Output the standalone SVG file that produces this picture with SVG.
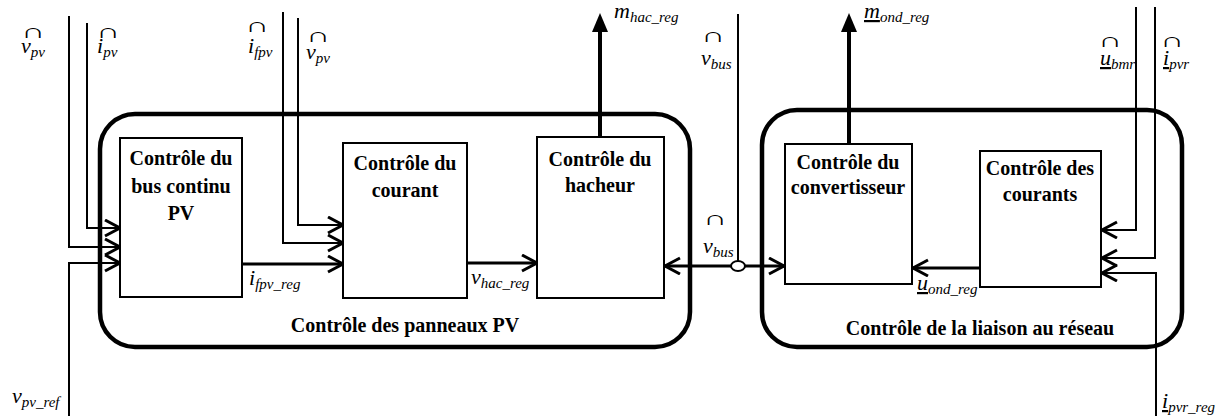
<svg xmlns="http://www.w3.org/2000/svg" width="1223" height="416" viewBox="0 0 1223 416">
<style>
.grp{fill:none;stroke:#000;stroke-width:4.5}
.blk rect{fill:#fff;stroke:#000;stroke-width:2}
.bt{font-family:"Liberation Serif","Times New Roman",serif;font-weight:bold;font-size:20px;text-anchor:middle}
.lbl{font-family:"Liberation Serif","Times New Roman",serif;font-style:italic;font-size:22px}
.sub{font-size:15px}
.hat{font-family:"DejaVu Sans",sans-serif;font-weight:200;font-size:18px}
.w{fill:none;stroke:#000;stroke-width:2}
.t{stroke-width:3}
.u{text-decoration:underline}
</style>
<defs>
<marker id="ar" markerUnits="userSpaceOnUse" markerWidth="22" markerHeight="22" refX="16" refY="9" orient="auto-start-reverse">
<path d="M1,1 L16,9 L1,17" fill="none" stroke="#000" stroke-width="3"/>
</marker>
</defs>
<g id="group-pv">
<rect class="grp" x="100" y="114" width="590" height="233" rx="35"/>
<text class="bt" x="405" y="332">Contrôle des panneaux PV</text>
</g>
<g id="group-reseau">
<rect class="grp" x="762" y="110" width="420" height="237" rx="35"/>
<text class="bt" x="980" y="335">Contrôle de la liaison au réseau</text>
</g>
<g id="connectors">
<path class="w" d="M69,16 V247 H120" marker-end="url(#ar)"/>
<path class="w" d="M87,23 V228 H120" marker-end="url(#ar)"/>
<path class="w" d="M69,416 V263 H120" marker-end="url(#ar)"/>
<path class="w" d="M283,12 V243 H343" marker-end="url(#ar)"/>
<path class="w" d="M298,18 V225 H343" marker-end="url(#ar)"/>
<path class="w t" d="M242,264 H343" marker-end="url(#ar)"/>
<path class="w t" d="M467,263 H537" marker-end="url(#ar)"/>
<path class="w" style="stroke-width:4" d="M600,137 V30"/>
<polygon points="592,32 608,32 600,13"/>
<path class="w" style="stroke-width:4" d="M849,144 V30"/>
<polygon points="841,32 857,32 849,13"/>
<path class="w" d="M738,14 V261"/>
<path class="w t" d="M665,266 H784" marker-start="url(#ar)" marker-end="url(#ar)"/>
<ellipse cx="738" cy="266" rx="7" ry="5" fill="#fff" stroke="#000" stroke-width="2"/>
<path class="w t" d="M980,268 H913" marker-end="url(#ar)"/>
<path class="w" d="M1136,7 V230 H1102" marker-end="url(#ar)"/>
<path class="w" d="M1155,7 V258 H1102" marker-end="url(#ar)"/>
<path class="w" d="M1156,416 V273 H1102" marker-end="url(#ar)"/>
</g>
<g id="blk-bus" class="blk">
<rect x="120" y="138" width="122" height="159"/>
<text class="bt" x="181" y="165">Contrôle du</text>
<text class="bt" x="181" y="193">bus continu</text>
<text class="bt" x="181" y="220">PV</text>
</g>
<g id="blk-courant" class="blk">
<rect x="343" y="143" width="124" height="155"/>
<text class="bt" x="405" y="170">Contrôle du</text>
<text class="bt" x="405" y="197">courant</text>
</g>
<g id="blk-hacheur" class="blk">
<rect x="537" y="137" width="127" height="161"/>
<text class="bt" x="600" y="166">Contrôle du</text>
<text class="bt" x="600" y="192">hacheur</text>
</g>
<g id="blk-conv" class="blk">
<rect x="785" y="144" width="127" height="140"/>
<text class="bt" x="848" y="169">Contrôle du</text>
<text class="bt" x="848" y="194">convertisseur</text>
</g>
<g id="blk-courants" class="blk">
<rect x="980" y="151" width="121" height="136"/>
<text class="bt" x="1040" y="175">Contrôle des</text>
<text class="bt" x="1040" y="201">courants</text>
</g>
<g id="labels">
<text class="hat" transform="translate(21,38) scale(1.8,1.1)">∩</text>
<text class="lbl" x="21" y="53">v<tspan class="sub" dy="4">pv</tspan></text>
<text class="hat" transform="translate(96,38) scale(1.8,1.1)">∩</text>
<text class="lbl" x="97" y="53">i<tspan class="sub" dy="4">pv</tspan></text>
<text class="hat" transform="translate(245,32) scale(1.8,1.1)">∩</text>
<text class="lbl" x="248" y="53">i<tspan class="sub" dy="4">fpv</tspan></text>
<text class="hat" transform="translate(306,42) scale(1.8,1.1)">∩</text>
<text class="lbl" x="306" y="59">v<tspan class="sub" dy="4">pv</tspan></text>
<text class="lbl" x="249" y="285">i<tspan class="sub" dy="4">fpv_reg</tspan></text>
<text class="lbl" x="471" y="284">v<tspan class="sub" dy="4">hac_reg</tspan></text>
<text class="lbl" x="614" y="18">m<tspan class="sub" dy="4">hac_reg</tspan></text>
<text class="hat" transform="translate(701,42) scale(1.8,1.1)">∩</text>
<text class="lbl" x="701" y="65">v<tspan class="sub" dy="4">bus</tspan></text>
<text class="hat" transform="translate(703,225) scale(1.8,1.1)">∩</text>
<text class="lbl" x="703" y="253">v<tspan class="sub" dy="4">bus</tspan></text>
<text class="lbl" x="864" y="18"><tspan class="u">m</tspan><tspan class="sub" dy="4">ond_reg</tspan></text>
<text class="hat" transform="translate(1098,47) scale(1.8,1.1)">∩</text>
<text class="lbl" x="1100" y="65"><tspan class="u">u</tspan><tspan class="sub" dy="4">bmr</tspan></text>
<text class="hat" transform="translate(1160,47) scale(1.8,1.1)">∩</text>
<text class="lbl" x="1163" y="65"><tspan class="u">i</tspan><tspan class="sub" dy="4">pvr</tspan></text>
<text class="lbl" x="917" y="290"><tspan class="u">u</tspan><tspan class="sub" dy="4">ond_reg</tspan></text>
<text class="lbl" x="1162" y="408"><tspan class="u">i</tspan><tspan class="sub" dy="4">pvr_reg</tspan></text>
<text class="lbl" x="12" y="403">v<tspan class="sub" dy="4">pv_ref</tspan></text>
</g>
</svg>
